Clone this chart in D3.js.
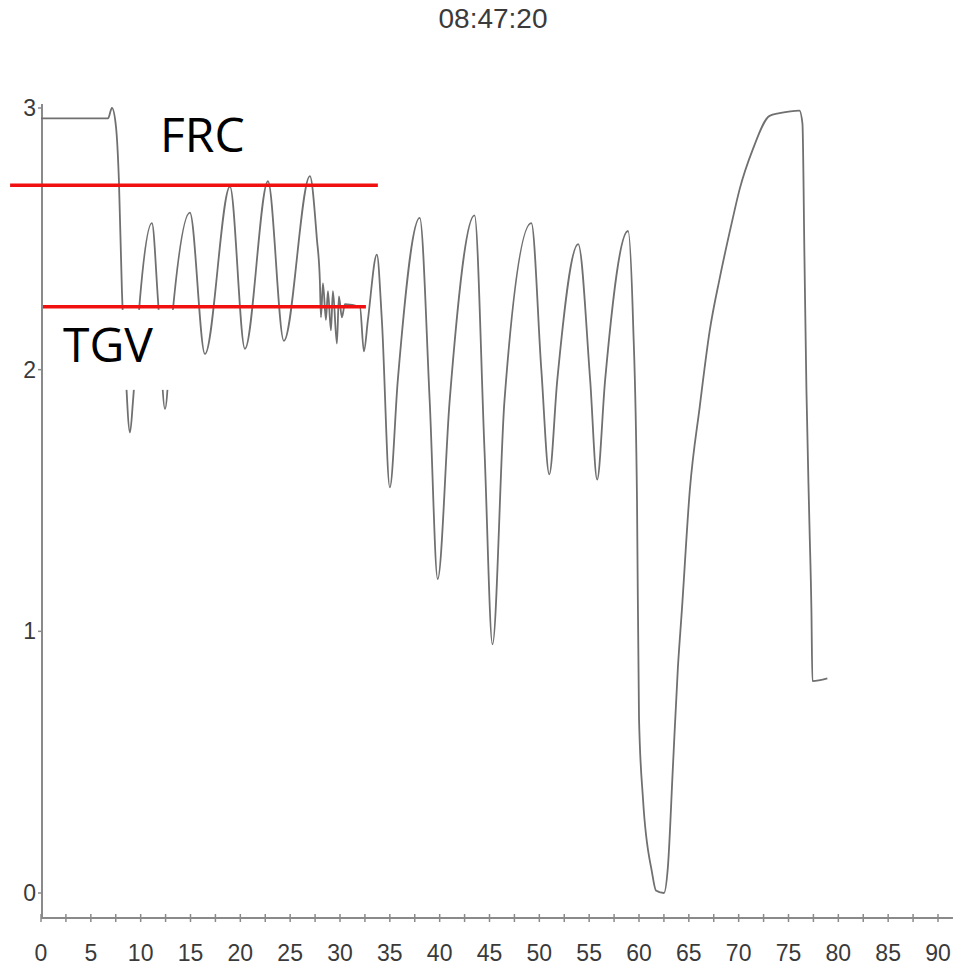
<!DOCTYPE html>
<html><head><meta charset="utf-8">
<script src="https://cdn.jsdelivr.net/npm/d3@7/dist/d3.min.js"></script>
<style>body{margin:0;background:#fff}svg{display:block}</style>
</head><body>
<svg id="c" width="964" height="967"></svg>
<script>
// ---- data ----
const title = "08:47:20";
const time = [0,6.72,7.12,7.52,7.82,8.12,8.43,8.93,9.23,9.93,11.13,11.73,12.44,13.14,14.94,16.45,18.96,20.46,22.77,24.37,26.98,27.68,27.98,28.09,28.29,28.59,28.79,29.09,29.29,29.69,29.89,30.19,30.49,32.0,32.4,32.8,33.7,34.2,35.0,35.8,38.0,39.0,39.8,41.0,43.5,44.5,45.3,46.5,49.2,50.2,51.0,51.8,53.9,55.1,55.8,56.6,58.9,59.4,59.8,60.0,60.4,61.3,61.7,62.5,62.9,63.4,63.9,64.3,65.1,66.1,67.1,68.1,69.3,70.1,71.4,73.1,74.1,76.1,76.4,76.6,76.8,77.1,77.3,77.4,78.9];
const volume = [2.96,2.96,3.00,2.93,2.72,2.30,2.04,1.76,1.88,2.27,2.56,2.27,1.85,2.19,2.60,2.06,2.70,2.08,2.72,2.11,2.74,2.50,2.34,2.20,2.33,2.19,2.30,2.15,2.30,2.10,2.28,2.20,2.25,2.24,2.07,2.19,2.44,2.19,1.55,1.96,2.58,1.88,1.20,1.88,2.59,1.69,0.95,1.88,2.56,2.00,1.60,1.96,2.48,1.96,1.58,1.96,2.53,2.19,1.50,0.67,0.36,0.08,0.01,0.00,0.10,0.48,0.86,1.08,1.54,1.86,2.15,2.35,2.56,2.69,2.84,2.97,2.98,2.99,2.94,2.43,1.92,1.41,1.08,0.81,0.82];
const xTicks = d3.range(0, 91, 2.5);
const xTickLabels = [0,5,10,15,20,25,30,35,40,45,50,55,60,65,70,75,80,85,90];
const yTickLabels = [0,1,2,3];
const refNames = ["FRC","TGV"];
const refValues = [2.705, 2.24];
const refStart = [-3.1, 0.2];
const refEnd = [33.8, 32.6];

// ---- chart ----
const svg = d3.select("#c");
const x = d3.scaleLinear().domain([0, 90]).range([41, 938]);
const y = d3.scaleLinear().domain([0, 3]).range([893, 108]);
const axisGrey = "#8a8a8a";
const labelFont = "Liberation Sans, Arial, sans-serif";

svg.append("text").attr("x", 493).attr("y", 28).attr("text-anchor", "middle")
  .attr("font-family", labelFont).attr("font-size", 28)
  .attr("fill", "#3a3a3a").text(title);

// x axis
const xAxisY = 918;
const gx = svg.append("g").attr("transform", `translate(0,${xAxisY})`);
gx.append("line").attr("x1", x(0)).attr("x2", x(91.5)).attr("y1", 0).attr("y2", 0)
  .attr("stroke", axisGrey).attr("stroke-width", 2);
gx.selectAll("line.t").data(xTicks).join("line").attr("class", "t")
  .attr("x1", d => x(d)).attr("x2", d => x(d)).attr("y1", -4).attr("y2", 4)
  .attr("stroke", axisGrey).attr("stroke-width", 1.5);
gx.selectAll("text").data(xTickLabels).join("text")
  .attr("x", d => x(d)).attr("y", 43).attr("text-anchor", "middle")
  .attr("font-family", labelFont).attr("font-size", 23)
  .attr("fill", "#3a3a3a").text(d => d);

// y axis
const gy = svg.append("g");
gy.append("line").attr("x1", 42).attr("x2", 42).attr("y1", 104).attr("y2", xAxisY)
  .attr("stroke", axisGrey).attr("stroke-width", 2);
gy.selectAll("line.t").data(yTickLabels).join("line").attr("class", "t")
  .attr("x1", 38).attr("x2", 42).attr("y1", d => y(d)).attr("y2", d => y(d))
  .attr("stroke", axisGrey).attr("stroke-width", 1.5);
gy.selectAll("text").data(yTickLabels).join("text")
  .attr("x", 36).attr("y", d => y(d) + 8).attr("text-anchor", "end")
  .attr("font-family", labelFont).attr("font-size", 23)
  .attr("fill", "#3a3a3a").text(d => d);

// trace
const pts = time.map((t, i) => [t, volume[i]]);
svg.append("path").datum(pts)
  .attr("d", d3.line().x(d => x(d[0])).y(d => y(d[1])).curve(d3.curveMonotoneX))
  .attr("fill", "none").attr("stroke", "#707070").attr("stroke-width", 1.8);

// white box behind TGV label
svg.append("rect").attr("x", 43).attr("y", y(refValues[1]) + 3).attr("width", 137).attr("height", 80)
  .attr("fill", "#fff");

// reference lines
refNames.forEach((n, i) => {
  svg.append("line").attr("x1", x(refStart[i])).attr("x2", x(refEnd[i]))
    .attr("y1", y(refValues[i])).attr("y2", y(refValues[i]))
    .attr("stroke", "#f01010").attr("stroke-width", 3.5);
});
svg.append("text").attr("x", 160).attr("y", 152).attr("font-family", "Open Sans, sans-serif")
  .attr("font-size", 48).attr("fill", "#000").text(refNames[0]);
svg.append("text").attr("x", 63).attr("y", 362).attr("font-family", "Open Sans, sans-serif")
  .attr("font-size", 48).attr("fill", "#000").text(refNames[1]);
</script>
</body></html>
